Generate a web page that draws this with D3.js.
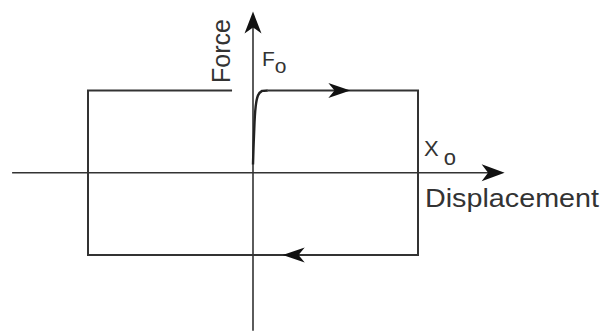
<!DOCTYPE html>
<html><head><meta charset="utf-8">
<script src="https://cdn.jsdelivr.net/npm/d3@7"></script>
<style>html,body{margin:0;padding:0;background:#fff;}svg{display:block;}</style>
</head><body>
<script>
// Hysteresis loop data (normalised: X0 = 1, F0 = 1)
const curveX = [0, 0.006, 0.016, 0.03, 0.055, 0.09];
const curveY = [0.1, 0.45, 0.8, 0.94, 0.995, 1];
const loopX = [0.09, 1, 1, -1, -1, -0.127];
const loopY = [1, 1, -1, -1, 1, 1];
// direction arrows on the loop: tip position and direction
const arrowX = [0.59, 0.18];
const arrowY = [1, -1];
const arrowDir = [1, -1];
// axis extents in data units
const xAxisExtent = [-1.46, 1.525];
const yAxisExtent = [-1.92, 1.96];
const labels = {force: "Force", disp: "Displacement", f0: "F", x0: "X", sub: "o"};

const W = 602, H = 333;
const svg = d3.select("body").append("svg").attr("width", W).attr("height", H);
const x = d3.scaleLinear().domain([-1, 1]).range([88, 418]);
const y = d3.scaleLinear().domain([-1, 1]).range([255, 90.5]);
const col = "#333";

// axes
svg.append("line").attr("x1", x(xAxisExtent[0])).attr("x2", x(xAxisExtent[1]) - 10)
  .attr("y1", y(0)).attr("y2", y(0)).attr("stroke", col).attr("stroke-width", 1.6);
svg.append("line").attr("x1", x(0)).attr("x2", x(0))
  .attr("y1", y(yAxisExtent[0])).attr("y2", y(yAxisExtent[1]) + 10).attr("stroke", col).attr("stroke-width", 1.6);

function arrowHead(tx, ty, angle, len, half) {
  const p = [[0, 0], [-len, -half], [-len * 0.72, 0], [-len, half]];
  svg.append("path")
    .attr("d", "M" + p.map(d => d.join(",")).join("L") + "Z")
    .attr("transform", `translate(${tx},${ty}) rotate(${angle})`)
    .attr("fill", "#111");
}
arrowHead(x(xAxisExtent[1]), y(0), 0, 23, 8.5);
arrowHead(x(0), y(yAxisExtent[1]), -90, 22, 8.5);

// loop
const line = d3.line().x(d => x(d[0])).y(d => y(d[1]));
svg.append("path").datum(loopX.map((v, i) => [v, loopY[i]]))
  .attr("d", line).attr("fill", "none").attr("stroke", col).attr("stroke-width", 2);
svg.append("path").datum(curveX.map((v, i) => [v, curveY[i]]))
  .attr("d", line.curve(d3.curveMonotoneY)).attr("fill", "none").attr("stroke", "#222").attr("stroke-width", 2.4);

arrowX.forEach((v, i) => arrowHead(x(v), y(arrowY[i]), arrowDir[i] > 0 ? 0 : 180, 22, 7.5));

// labels
const ff = "Liberation Sans, Arial, sans-serif";
svg.append("text").attr("transform", `translate(${x(0) - 23},83) rotate(-90)`)
  .attr("font-family", ff).attr("font-size", 25).attr("fill", col).text(labels.force);
const f0 = svg.append("text").attr("x", 262).attr("y", 66)
  .attr("font-family", ff).attr("font-size", 21).attr("fill", col);
f0.append("tspan").text(labels.f0);
f0.append("tspan").attr("dy", 7).text(labels.sub);
const x0 = svg.append("text").attr("x", 424).attr("y", 156)
  .attr("font-family", ff).attr("font-size", 22).attr("fill", col);
x0.append("tspan").text(labels.x0);
x0.append("tspan").attr("dx", 5).attr("dy", 9).text(labels.sub);
svg.append("text").attr("x", 425).attr("y", 207)
  .attr("font-family", ff).attr("font-size", 25).attr("fill", col)
  .attr("textLength", 174).attr("lengthAdjust", "spacingAndGlyphs").text(labels.disp);
</script>
</body></html>
